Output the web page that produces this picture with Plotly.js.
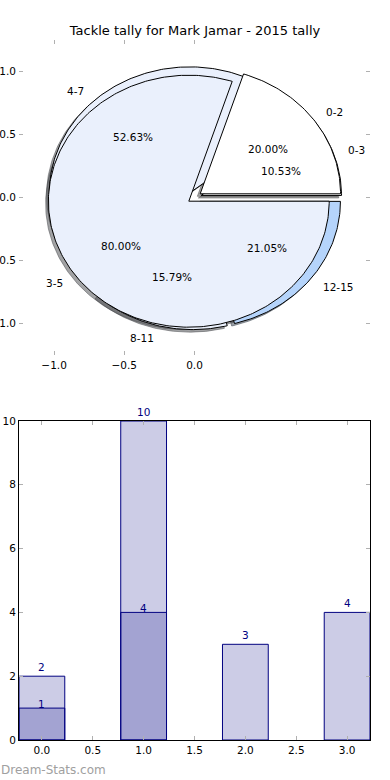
<!DOCTYPE html>
<html><head><meta charset="utf-8">
<script src="https://cdn.plot.ly/plotly-3.0.1.min.js"></script>
<style>html,body{margin:0;padding:0;background:#fff}#chart{width:390px;height:780px}</style>
</head><body><div id="chart"></div>
<script>
// ---- data ----
const chartTitle = 'Tackle tally for Mark Jamar - 2015 tally';
const watermark = 'Dream-Stats.com';
// pie drawn first (4 ranges)
const pieALabels = ['0-3', '4-7', '8-11', '12-15'];
const pieAValues = [2, 10, 3, 4];
// pie drawn on top (2 ranges)
const pieBLabels = ['0-2', '3-5'];
const pieBValues = [1, 4];
// bars
const barX = [0, 1, 2, 3];
const barTotals = [2, 10, 3, 4];
const barSubX = [0, 1];
const barSubValues = [1, 4];
// ticks
const pieTickX = [-1, -0.5, 0];
const pieTickY = [-1, -0.5, 0, 0.5, 1];

// ---- styles ----
const FONT = 'DejaVu Sans';
const LIGHT = '#eaf0fc';
const pieAColors = ['#ffffff', LIGHT, LIGHT, '#b5d4fb'];
const pieBColors = ['#ffffff', LIGHT];
const EXPLODE = 0.05;
const NAVY = '#000080';

function hexToRgb(h){h=h.replace('#','');return [parseInt(h.substr(0,2),16),parseInt(h.substr(2,2),16),parseInt(h.substr(4,2),16)];}

function wedges(values, labels, colors, explode){
  const total = values.reduce((a,b)=>a+b,0);
  let t1 = 0; const out = [];
  values.forEach((v,i)=>{
    const t2 = t1 + v/total;
    const tm = Math.PI*(t1+t2);
    const cx = explode*Math.cos(tm), cy = explode*Math.sin(tm);
    const xs=[cx], ys=[cy];
    const n = Math.max(4, Math.ceil((t2-t1)*360));
    for(let k=0;k<=n;k++){const a=2*Math.PI*(t1+(t2-t1)*k/n); xs.push(cx+Math.cos(a)); ys.push(cy+Math.sin(a));}
    xs.push(cx); ys.push(cy);
    out.push({xs, ys, tm, cx, cy, frac:v/total, color:colors[i], label:labels[i]});
    t1 = t2;
  });
  return out;
}

const wA = wedges(pieAValues, pieALabels, pieAColors, EXPLODE);
const wB = wedges(pieBValues, pieBLabels, pieBColors, EXPLODE);
const all = wA.concat(wB);

const traces = [];
// shadows (below all wedges)
all.forEach(w=>{
  const c = hexToRgb(w.color).map(v=>Math.round(v*0.3));
  const col = `rgba(${c[0]},${c[1]},${c[2]},0.5)`;
  traces.push({type:'scatter', mode:'lines', x:w.xs.map(v=>v-0.02), y:w.ys.map(v=>v-0.02),
    fill:'toself', fillcolor:col, line:{color:col, width:1}, hoverinfo:'skip', showlegend:false, xaxis:'x', yaxis:'y'});
});
// wedges
all.forEach(w=>{
  traces.push({type:'scatter', mode:'lines', x:w.xs, y:w.ys, fill:'toself', fillcolor:w.color,
    line:{color:'#000000', width:1}, hoverinfo:'skip', showlegend:false, xaxis:'x', yaxis:'y'});
});
// bars
traces.push({type:'bar', x:barX, y:barTotals, width:0.45, marker:{color:'rgba(0,0,128,0.2)', line:{color:NAVY, width:1}},
  hoverinfo:'skip', showlegend:false, xaxis:'x2', yaxis:'y2'});
traces.push({type:'bar', x:barSubX, y:barSubValues, width:0.45, marker:{color:'rgba(0,0,128,0.2)', line:{color:NAVY, width:1}},
  hoverinfo:'skip', showlegend:false, xaxis:'x2', yaxis:'y2'});

const annotations = [];
all.forEach(w=>{
  const lx = w.cx + 1.1*Math.cos(w.tm), ly = w.cy + 1.1*Math.sin(w.tm);
  annotations.push({xref:'x', yref:'y', x:lx, y:ly, text:w.label, showarrow:false, borderpad:0,
    xanchor: lx>0 ? 'left' : 'right', yanchor:'middle', font:{family:FONT, size:10.5, color:'#000'}});
  const px = w.cx + 0.6*Math.cos(w.tm), py = w.cy + 0.6*Math.sin(w.tm);
  annotations.push({xref:'x', yref:'y', x:px, y:py, text:(w.frac*100).toFixed(2)+'%', showarrow:false, borderpad:0,
    xanchor:'center', yanchor:'middle', font:{family:FONT, size:10.5, color:'#000'}});
});
barX.forEach((x,i)=>{
  annotations.push({xref:'x2', yref:'y2', x:x, y:barTotals[i], text:String(barTotals[i]), showarrow:false, borderpad:0,
    xanchor:'center', yanchor:'middle', yshift:9, font:{family:FONT, size:10.5, color:NAVY}});
});
barSubX.forEach((x,i)=>{
  annotations.push({xref:'x2', yref:'y2', x:x, y:barSubValues[i], text:String(barSubValues[i]), showarrow:false, borderpad:0,
    xanchor:'center', yanchor:'middle', yshift:4, font:{family:FONT, size:10.5, color:NAVY}});
});
annotations.push({xref:'paper', yref:'paper', x:-19/351, y:-30/700, text:watermark, showarrow:false, borderpad:0,
  xanchor:'left', yanchor:'middle', font:{family:FONT, size:12, color:'#a0a0a0'}});

const tickStyle = {ticks:'inside', ticklen:4, tickwidth:1, tickcolor:'#b0b0b0', showgrid:false, zeroline:false,
  tickfont:{family:FONT, size:10.5, color:'#000'}};

const layout = {
  width:390, height:780, paper_bgcolor:'#fff', plot_bgcolor:'rgba(0,0,0,0)',
  margin:{l:19, r:20, t:40, b:40},
  font:{family:FONT},
  title:{text:chartTitle, x:0.5, xref:'container', y:1-30/780, yref:'container', yanchor:'middle', xanchor:'center',
    font:{family:FONT, size:13, color:'#000'}},
  showlegend:false,
  barmode:'overlay',
  xaxis:Object.assign({}, tickStyle, {domain:[0,1], range:[-1.25,1.25], tickvals:pieTickX, tickformat:'.1f',
    showline:true, linecolor:'rgba(0,0,0,0)', mirror:'ticks', anchor:'y', fixedrange:true}),
  yaxis:Object.assign({}, tickStyle, {domain:[0.55,1], range:[-1.25,1.25], tickvals:pieTickY, tickformat:'.1f',
    showline:true, linecolor:'rgba(0,0,0,0)', mirror:'ticks', anchor:'x', fixedrange:true}),
  xaxis2:Object.assign({}, tickStyle, {domain:[0,1], range:[-0.225,3.225], dtick:0.5, tick0:0, tickformat:'.1f',
    showline:true, linecolor:'#000', linewidth:1, mirror:'ticks', anchor:'y2'}),
  yaxis2:Object.assign({}, tickStyle, {domain:[0,319/700], range:[0,10], dtick:2, tick0:0,
    showline:true, linecolor:'#000', linewidth:1, mirror:'ticks', anchor:'x2'}),
  annotations:annotations
};

Plotly.newPlot('chart', traces, layout, {staticPlot:true, displayModeBar:false});
</script>
</body></html>
